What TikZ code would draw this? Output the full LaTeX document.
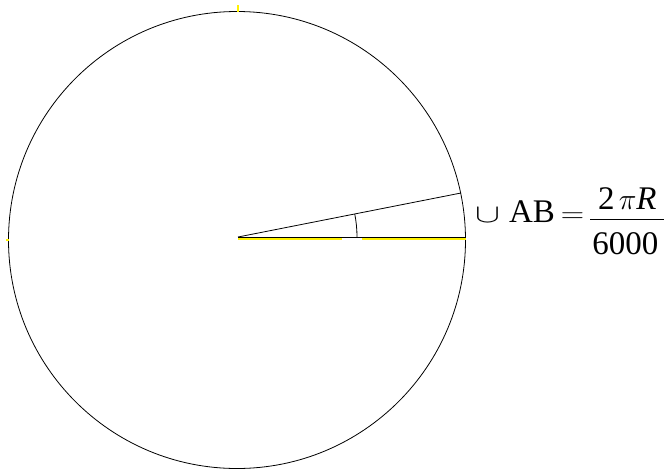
\documentclass[tikz,border=0pt]{standalone}
\usepackage{amsmath}
\usepackage{fontspec}
\setmainfont{Liberation Serif}
\begin{document}
\begin{tikzpicture}[
  x=1pt, y=-1pt,
  rim/.style={draw=black, line width=0.8pt},
  ray/.style={draw=black, line width=0.8pt},
  hue/.style={draw=yellow, line width=1.4pt},
  lbl/.style={anchor=base west, inner sep=0pt, font=\fontsize{33}{39}\selectfont}
]
  \useasboundingbox (0,0) rectangle (669,469);
  % circle of radius R
  \coordinate (C) at (237,240);
  \coordinate (O) at (238,237);
  \coordinate (A) at (461,193);
  \coordinate (B) at (465.5,237);
  \draw[rim] (C) circle[radius=228.5];
  \draw[hue] (238,5) -- (238,12);
  \draw[hue] (6,240) -- (9,240);

  % radii and the angle
  \draw[hue] (238,239) -- (342,239);
  \draw[hue] (362,239) -- (466,239);
  \draw[ray] (O) -- (B);
  \draw[ray] (O) -- (A);
  \draw[ray] (O) ++(119,0) arc[start angle=0, end angle=-11.2, radius=119];

  \node[lbl] (arcAB) at (475,222) {\scalebox{1.5}[1.05]{$\cup$}\hspace{9pt}AB\hspace{6pt}\scalebox{1.3}[1.1]{$=$}\hspace{5pt}\raisebox{-4pt}{$\dfrac{\text{2}\,\scalebox{1.2}{$\pi$}\textit{R}}{\rule{0pt}{31pt}\hspace{2pt}\text{6000}\hspace{6pt}}$}};
\end{tikzpicture}
\end{document}
